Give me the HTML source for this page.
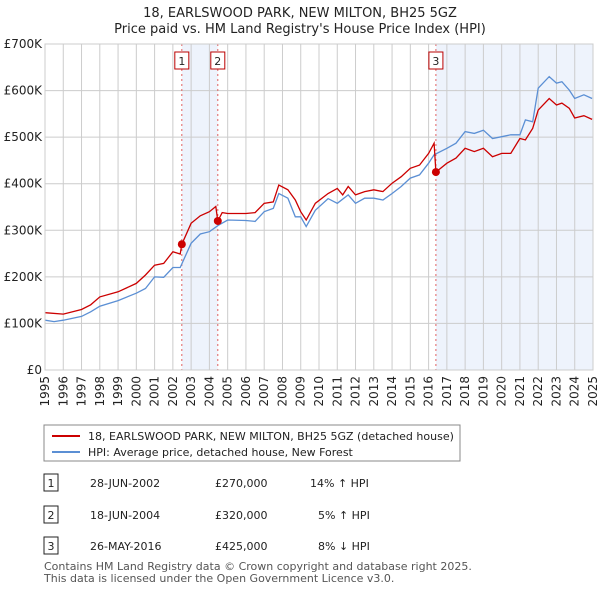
<!DOCTYPE html>
<html><head><meta charset="utf-8"><style>
body{margin:0;background:#fff;font-family:"Liberation Sans","DejaVu Sans",sans-serif;}
svg text{font-family:"DejaVu Sans","Liberation Sans",sans-serif;}
</style></head><body>
<svg id="chart" width="600" height="590" viewBox="0 0 600 590" xmlns="http://www.w3.org/2000/svg">
<text x="300" y="17" text-anchor="middle" font-size="13" fill="#222">18, EARLSWOOD PARK, NEW MILTON, BH25 5GZ</text>
<text x="300" y="33" text-anchor="middle" font-size="13" fill="#222">Price paid vs. HM Land Registry's House Price Index (HPI)</text>
<g id="plot"></g>
<g>
<rect x="44" y="425" width="416" height="36" fill="#fff" stroke="#888"/>
<line x1="52" y1="436" x2="80" y2="436" stroke="#cc0000" stroke-width="2"/>
<text x="88" y="440" font-size="11" fill="#222">18, EARLSWOOD PARK, NEW MILTON, BH25 5GZ (detached house)</text>
<line x1="52" y1="452" x2="80" y2="452" stroke="#5b8fd4" stroke-width="2"/>
<text x="88" y="456" font-size="11" fill="#222">HPI: Average price, detached house, New Forest</text>
</g>
<g font-size="11" fill="#222">
<rect x="44" y="474" width="14" height="17" fill="#fff" stroke="#222"/><text x="51" y="487" text-anchor="middle">1</text>
<text x="90" y="487">28-JUN-2002</text><text x="215" y="487">£270,000</text><text x="310" y="487">14% ↑ HPI</text>
<rect x="44" y="506" width="14" height="17" fill="#fff" stroke="#222"/><text x="51" y="519" text-anchor="middle">2</text>
<text x="90" y="519">18-JUN-2004</text><text x="215" y="519">£320,000</text><text x="318" y="519">5% ↑ HPI</text>
<rect x="44" y="537" width="14" height="17" fill="#fff" stroke="#222"/><text x="51" y="550" text-anchor="middle">3</text>
<text x="90" y="550">26-MAY-2016</text><text x="215" y="550">£425,000</text><text x="318" y="550">8% ↓ HPI</text>
</g>
<text x="44" y="570" font-size="11" fill="#555">Contains HM Land Registry data © Crown copyright and database right 2025.</text>
<text x="44" y="582" font-size="11" fill="#555">This data is licensed under the Open Government Licence v3.0.</text>
</svg>
<script>
const yTicks=[0,100,200,300,400,500,600,700];
const yTickLabels=["£0","£100K","£200K","£300K","£400K","£500K","£600K","£700K"];
const xYears=[1995,1996,1997,1998,1999,2000,2001,2002,2003,2004,2005,2006,2007,2008,2009,2010,2011,2012,2013,2014,2015,2016,2017,2018,2019,2020,2021,2022,2023,2024,2025];
const saleDates=[2002.49,2004.46,2016.4];
const salePrices=[270,320,425];
const saleLabels=["1","2","3"];
const hpiT=[1995,1995.5,1996,1997,1997.5,1998,1999,2000,2000.5,2001,2001.5,2002,2002.4,2003,2003.5,2004,2004.5,2005,2006,2006.5,2007,2007.5,2007.8,2008.3,2008.7,2009,2009.3,2009.8,2010.5,2011,2011.6,2012,2012.5,2013,2013.5,2014,2014.5,2015,2015.5,2016,2016.3,2017,2017.5,2018,2018.5,2019,2019.5,2020,2020.5,2021,2021.3,2021.7,2022,2022.6,2023,2023.3,2023.7,2024,2024.5,2024.95];
const hpiV=[107,104,107,115,125,137,149,165,175,200,199,220,220,272,292,297,311,322,321,319,340,347,379,369,329,329,308,343,368,358,376,358,369,369,365,379,394,412,419,444,462,476,487,512,508,515,497,501,505,505,537,533,605,630,616,619,601,583,591,583];
const redT=[1995,1996,1997,1997.5,1998,1999,2000,2000.5,2001,2001.5,2002,2002.4,2002.49,2003,2003.5,2004,2004.35,2004.46,2004.7,2005,2006,2006.5,2007,2007.5,2007.8,2008.3,2008.7,2009,2009.3,2009.8,2010.5,2011,2011.3,2011.6,2012,2012.5,2013,2013.5,2014,2014.5,2015,2015.5,2016,2016.3,2016.4,2017,2017.5,2018,2018.5,2019,2019.5,2020,2020.5,2021,2021.3,2021.7,2022,2022.6,2023,2023.3,2023.7,2024,2024.5,2024.95];
const redV=[123,120,130,140,157,168,186,204,225,229,254,249,270,315,331,340,351,320,338,336,336,338,358,361,397,387,365,340,322,358,379,390,376,394,376,383,387,383,401,415,433,440,465,487,425,444,455,476,469,476,458,465,465,497,494,519,558,583,569,573,562,541,546,538];

const L=45,R=593,T=44,B=370;
const xs=y=>L+(y-1995)/(2025-1995)*(R-L);
const ys=v=>B-v/700*(B-T);
const NS="http://www.w3.org/2000/svg";
const g=document.getElementById('plot');
function mk(tag,attrs){const e=document.createElementNS(NS,tag);for(const k in attrs)e.setAttribute(k,attrs[k]);g.appendChild(e);return e;}
let e;
e=mk('rect',{x:xs(saleDates[0]),y:T,width:xs(saleDates[1])-xs(saleDates[0]),height:B-T,fill:'#eef3fc'});


e=mk('rect',{x:xs(saleDates[2]),y:T,width:R-xs(saleDates[2]),height:B-T,fill:'#eef3fc'});


xYears.forEach(yr=>{
 e=mk('line',{x1:xs(yr),x2:xs(yr),y1:T,y2:B,stroke:'#cccccc','stroke-width':1});
 
 
 e=mk('text',{x:0,y:0,'font-size':12,fill:'#222','text-anchor':'end',transform:`translate(${xs(yr)+4},${B+6}) rotate(-90)`});
 e.textContent=yr;
 
 
});
yTicks.forEach((v,i)=>{
 e=mk('line',{x1:L,x2:R,y1:ys(v),y2:ys(v),stroke:'#cccccc','stroke-width':1});
 
 
 e=mk('text',{x:L-3,y:ys(v)+4,'font-size':12,fill:'#222','text-anchor':'end'});
 e.textContent=yTickLabels[i];
 
 
});
saleDates.forEach((d,i)=>{
 e=mk('line',{x1:xs(d),x2:xs(d),y1:T,y2:B,stroke:'#e06060','stroke-width':1,'stroke-dasharray':'2,3'});
 
 
 e=mk('rect',{x:xs(d)-7,y:52,width:14,height:17,fill:'#fff',stroke:'#bb0000'});
 
 
 e=mk('text',{x:xs(d),y:65,'font-size':11,'text-anchor':'middle',fill:'#222'});
 e.textContent=saleLabels[i];
 
 
});
e=mk('path',{d:hpiT.map((t,i)=>(i?'L':'M')+xs(t).toFixed(1)+','+ys(hpiV[i]).toFixed(1)).join(''),fill:'none',stroke:'#5b8fd4','stroke-width':1.3});


e=mk('path',{d:redT.map((t,i)=>(i?'L':'M')+xs(t).toFixed(1)+','+ys(redV[i]).toFixed(1)).join(''),fill:'none',stroke:'#cc0000','stroke-width':1.3});


saleDates.forEach((d,i)=>{
 e=mk('circle',{cx:xs(d),cy:ys(salePrices[i]),r:4,fill:'#cc0000'});
 
 
});
e=mk('rect',{x:L,y:T,width:R-L,height:B-T,fill:'none',stroke:'#ccc'});


</script>
</body></html>
